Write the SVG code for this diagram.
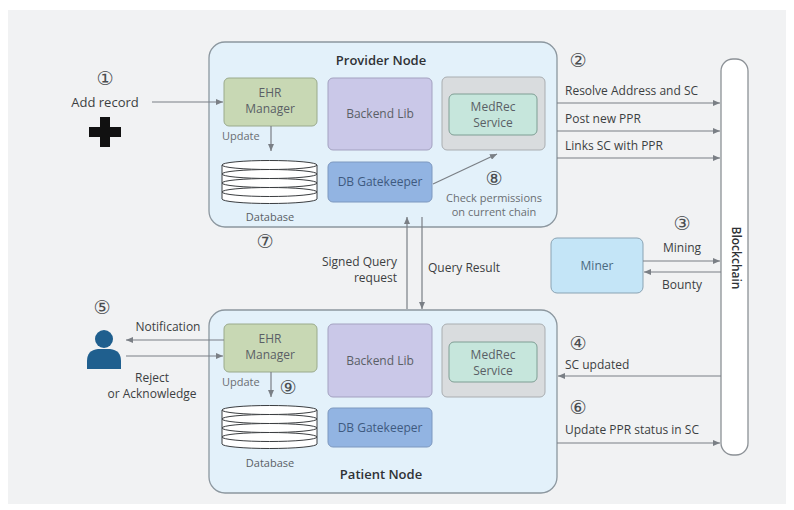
<svg xmlns="http://www.w3.org/2000/svg" width="794" height="510" viewBox="0 0 794 510">
<defs>
<marker id="ah" markerWidth="7" markerHeight="6" refX="7" refY="3" orient="auto" markerUnits="userSpaceOnUse">
<path d="M0,0 L7,3 L0,6 z" fill="#7a7f85"/>
</marker>
<style>
.t{font-family:"Open Sans","Noto Sans",sans-serif;font-size:12px;fill:#3c3f42}
.s{font-family:"Open Sans","Noto Sans",sans-serif;font-size:11px;fill:#6a6e72}
.n{font-family:"Open Sans","Noto Sans",sans-serif;font-size:12px;fill:#5a5f66;text-anchor:middle}
.h{font-family:"Open Sans","Noto Sans",sans-serif;font-size:13px;font-weight:600;fill:#2f3235;text-anchor:middle}
.c{font-family:"DejaVu Sans","Noto Sans CJK SC",sans-serif;font-size:19px;fill:#4a4d50;text-anchor:middle}
.node{fill:#e3f1fa;stroke:#8c979f;stroke-width:1.3}
.ehr{fill:#c8d8b4;stroke:#9aaa8c;stroke-width:1}
.bl{fill:#cac8e8;stroke:#a3a1c0;stroke-width:1}
.mo{fill:#d9dcde;stroke:#a9adb0;stroke-width:1}
.mi{fill:#c6e6dc;stroke:#7e9e94;stroke-width:1}
.gk{fill:#92b4e2;stroke:#7d98bf;stroke-width:1}
.ln{stroke:#7a7f85;stroke-width:1.2;fill:none}
.db{fill:#ffffff;stroke:#3a3d40;stroke-width:1}
</style>
</defs>
<rect x="0" y="0" width="794" height="510" fill="#ffffff"/>
<rect x="8" y="10" width="778" height="494" fill="#f1f2f3"/>

<g id="provider-node">
<rect class="node" x="209" y="42" width="348" height="185" rx="16"/>
<text class="h" x="381" y="65">Provider Node</text>
</g>
<g id="provider-ehr">
<rect class="ehr" x="224" y="78" width="93" height="48" rx="5"/>
<text class="n" x="270" y="97">EHR</text>
<text class="n" x="270" y="113">Manager</text>
</g>
<g id="provider-backend">
<rect class="bl" x="328" y="78" width="104" height="72" rx="5"/>
<text class="n" x="380" y="118">Backend Lib</text>
</g>
<g id="provider-medrec">
<rect class="mo" x="442" y="77" width="103" height="73" rx="5"/>
<rect class="mi" x="449" y="94" width="88" height="41" rx="5"/>
<text class="n" x="493" y="111">MedRec</text>
<text class="n" x="493" y="127">Service</text>
</g>
<g id="provider-gatekeeper">
<rect class="gk" x="328" y="162" width="104" height="40" rx="5"/>
<text class="n" x="380" y="186" style="fill:#3e5a80">DB Gatekeeper</text>
</g>
<g id="provider-database">
<path class="db" d="M222,165 L222,199 A47.5,4.5 0 0 0 317,199 L317,165"/>
<ellipse class="db" cx="269.5" cy="192" rx="47.5" ry="4.5"/>
<ellipse class="db" cx="269.5" cy="183" rx="47.5" ry="4.5"/>
<ellipse class="db" cx="269.5" cy="174" rx="47.5" ry="4.5"/>
<ellipse class="db" cx="269.5" cy="165" rx="47.5" ry="4.5"/>
<text class="n" x="270" y="221" style="font-size:11px">Database</text>
</g>

<g id="patient-node">
<rect class="node" x="209" y="310" width="348" height="183" rx="16"/>
<text class="h" x="381" y="479">Patient Node</text>
</g>
<g id="patient-ehr">
<rect class="ehr" x="224" y="324" width="93" height="48" rx="5"/>
<text class="n" x="270" y="343">EHR</text>
<text class="n" x="270" y="359">Manager</text>
</g>
<g id="patient-backend">
<rect class="bl" x="328" y="324" width="104" height="73" rx="5"/>
<text class="n" x="380" y="365">Backend Lib</text>
</g>
<g id="patient-medrec">
<rect class="mo" x="442" y="324" width="103" height="73" rx="5"/>
<rect class="mi" x="449" y="342" width="88" height="40" rx="5"/>
<text class="n" x="493" y="359">MedRec</text>
<text class="n" x="493" y="375">Service</text>
</g>
<g id="patient-gatekeeper">
<rect class="gk" x="328" y="408" width="104" height="39" rx="5"/>
<text class="n" x="380" y="432" style="fill:#3e5a80">DB Gatekeeper</text>
</g>
<g id="patient-database">
<path class="db" d="M222,410 L222,444 A47.5,4.5 0 0 0 317,444 L317,410"/>
<ellipse class="db" cx="269.5" cy="437" rx="47.5" ry="4.5"/>
<ellipse class="db" cx="269.5" cy="428" rx="47.5" ry="4.5"/>
<ellipse class="db" cx="269.5" cy="419" rx="47.5" ry="4.5"/>
<ellipse class="db" cx="269.5" cy="410" rx="47.5" ry="4.5"/>
<text class="n" x="270" y="467" style="font-size:11px">Database</text>
</g>

<g id="miner">
<rect x="551" y="238" width="92" height="55" rx="6" fill="#c4e5f7" stroke="#8aa3b3" stroke-width="1"/>
<text class="n" x="597" y="270" style="fill:#4a6a80">Miner</text>
</g>

<g id="blockchain">
<rect x="721" y="59" width="27" height="396" rx="12" fill="#ffffff" stroke="#8c9196" stroke-width="1.3"/>
<text x="735" y="258" transform="rotate(90 735 258)" text-anchor="middle" dominant-baseline="middle" style="font-family:'Open Sans','Noto Sans',sans-serif;font-size:12px;font-weight:600;fill:#2f3235">Blockchain</text>
</g>

<g id="user">
<circle cx="104" cy="339" r="9" fill="#1f5f8e"/>
<path d="M87,369 L87,361 Q87,350 98,349 L110,349 Q121,350 121,361 L121,369 Z" fill="#1f5f8e"/>
</g>

<g id="add-record">
<path d="M100,117 L110,117 L110,127 L121,127 L121,137 L110,137 L110,147 L100,147 L100,137 L89,137 L89,127 L100,127 Z" fill="#111111"/>
</g>

<g id="connectors">
<line class="ln" x1="152" y1="102" x2="223" y2="102" marker-end="url(#ah)"/>
<line class="ln" x1="271" y1="126" x2="271" y2="151" marker-end="url(#ah)"/>
<line class="ln" x1="433" y1="184" x2="497" y2="154" marker-end="url(#ah)"/>
<line class="ln" x1="557" y1="103" x2="720" y2="103" marker-end="url(#ah)"/>
<line class="ln" x1="557" y1="131" x2="720" y2="131" marker-end="url(#ah)"/>
<line class="ln" x1="557" y1="158" x2="720" y2="158" marker-end="url(#ah)"/>
<line class="ln" x1="407" y1="309" x2="407" y2="217" marker-end="url(#ah)"/>
<line class="ln" x1="422" y1="217" x2="422" y2="309" marker-end="url(#ah)"/>
<line class="ln" x1="643" y1="261" x2="720" y2="261" marker-end="url(#ah)"/>
<line class="ln" x1="721" y1="272" x2="644" y2="272" marker-end="url(#ah)"/>
<line class="ln" x1="721" y1="376" x2="558" y2="376" marker-end="url(#ah)"/>
<line class="ln" x1="557" y1="443" x2="720" y2="443" marker-end="url(#ah)"/>
<line class="ln" x1="224" y1="340" x2="126" y2="340" marker-end="url(#ah)"/>
<line class="ln" x1="126" y1="356" x2="223" y2="356" marker-end="url(#ah)"/>
<line class="ln" x1="271" y1="372" x2="271" y2="397" marker-end="url(#ah)"/>
</g>

<g id="labels">
<text class="c" x="105" y="85">①</text>
<text class="t" x="105" y="107" text-anchor="middle" style="font-size:13px">Add record</text>
<text class="s" x="222" y="140">Update</text>
<text class="c" x="265" y="248">⑦</text>
<text class="c" x="578" y="67">②</text>
<text class="t" x="565" y="95">Resolve Address and SC</text>
<text class="t" x="565" y="123">Post new PPR</text>
<text class="t" x="565" y="150">Links SC with PPR</text>
<text class="c" x="494" y="185">⑧</text>
<text class="s" x="494" y="202" text-anchor="middle">Check permissions</text>
<text class="s" x="494" y="216" text-anchor="middle">on current chain</text>
<text class="t" x="397" y="266" text-anchor="end">Signed Query</text>
<text class="t" x="397" y="282" text-anchor="end">request</text>
<text class="t" x="428" y="272">Query Result</text>
<text class="c" x="682" y="230">③</text>
<text class="t" x="682" y="252" text-anchor="middle">Mining</text>
<text class="t" x="682" y="289" text-anchor="middle">Bounty</text>
<text class="c" x="102" y="314">⑤</text>
<text class="t" x="168" y="331" text-anchor="middle">Notification</text>
<text class="t" x="152" y="382" text-anchor="middle">Reject</text>
<text class="t" x="152" y="398" text-anchor="middle">or Acknowledge</text>
<text class="s" x="222" y="386">Update</text>
<text class="c" x="288" y="394">⑨</text>
<text class="c" x="578" y="350">④</text>
<text class="t" x="565" y="369">SC updated</text>
<text class="c" x="578" y="414">⑥</text>
<text class="t" x="565" y="434">Update PPR status in SC</text>
</g>
</svg>
